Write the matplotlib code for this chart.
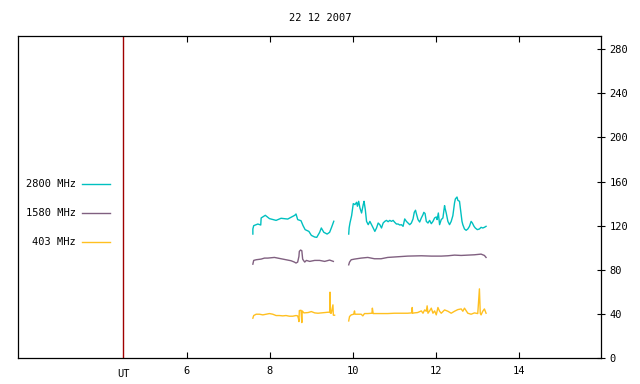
import numpy as np
import matplotlib
matplotlib.use("Agg")
import matplotlib.pyplot as plt
from matplotlib.lines import Line2D

nan = np.nan

# UT hours and flux values (nan = data gap)
t_2800 = [7.59, 7.59, 7.61, 7.71, 7.78, 7.79, 7.89, 7.99, 8.15, 8.27, 8.43, 8.60, 8.63, 8.67,
          8.75, 8.80, 8.85, 8.94, 9.00, 9.08, 9.13, 9.20, 9.24, 9.30, 9.38, 9.44, 9.49, 9.54,
          9.70,
          9.90, 9.91, 9.93, 9.97, 10.01, 10.05, 10.09, 10.11, 10.14, 10.17, 10.21, 10.25, 10.27,
          10.30, 10.33, 10.37, 10.41, 10.45, 10.49, 10.53, 10.57, 10.61, 10.65, 10.69, 10.73,
          10.77, 10.81, 10.85, 10.89, 10.93, 10.97, 11.01, 11.05, 11.09, 11.13, 11.17, 11.21,
          11.25, 11.29, 11.33, 11.37, 11.41, 11.45, 11.48, 11.51, 11.53, 11.57, 11.61, 11.65,
          11.69, 11.71, 11.74, 11.77, 11.81, 11.85, 11.89, 11.93, 11.97, 12.01, 12.03, 12.06,
          12.09, 12.13, 12.17, 12.21, 12.22, 12.25, 12.29, 12.33, 12.37, 12.41, 12.45, 12.47,
          12.51, 12.53, 12.57, 12.60, 12.63, 12.65, 12.69, 12.73, 12.77, 12.81, 12.85, 12.88,
          12.92, 12.95, 13.00, 13.05, 13.09, 13.13, 13.17, 13.21]
f_2800 = [112.4, 117.0, 120.0, 121.5, 120.6, 127.0, 129.4, 126.4, 124.8, 126.7, 126.0, 129.4,
          130.6, 125.5, 124.5, 120.0, 116.4, 114.8, 111.2, 109.7, 109.4, 114.0, 117.9, 114.0,
          112.4, 114.0, 118.8, 124.0,
          nan,
          112.4, 117.9, 122.4, 129.1, 140.0, 139.1, 141.2, 137.6, 142.1, 136.1, 131.5, 139.1,
          142.1, 134.5, 123.9, 120.9, 123.9, 120.9, 117.9, 114.8, 117.9, 122.4, 120.9, 117.9,
          122.4, 123.9, 124.8, 123.6, 124.8, 123.9, 124.8, 123.0, 121.5, 121.5, 120.6, 120.9,
          119.4, 126.1, 123.9, 122.4, 120.9, 122.4, 126.1, 132.1, 134.0, 131.0, 125.5, 123.3,
          127.0, 130.0, 132.1, 131.0, 123.9, 122.4, 124.8, 121.8, 123.9, 127.0, 127.9, 125.5,
          131.5, 120.9, 125.5, 127.0, 138.2, 136.1, 131.5, 123.9, 120.9, 123.9, 129.1, 140.6,
          144.2, 146.0, 143.0, 142.1, 133.0, 123.9, 120.9, 117.0, 115.8, 117.0, 119.4, 123.9,
          122.4, 119.4, 117.9, 116.4, 117.0, 118.5, 117.9, 118.5, 119.4]

t_1580 = [7.59, 7.61, 7.67, 7.79, 7.87, 7.95, 8.11, 8.19, 8.27, 8.35, 8.43, 8.51, 8.59, 8.63,
          8.67, 8.70, 8.71, 8.74, 8.77, 8.79, 8.81, 8.84, 8.88, 8.96, 9.08, 9.20, 9.32, 9.44,
          9.53,
          9.70,
          9.90, 9.92, 9.96, 10.04, 10.20, 10.36, 10.52, 10.68, 10.84, 11.08, 11.32, 11.65,
          11.89, 12.13, 12.29, 12.45, 12.61, 12.77, 12.93, 13.09, 13.17, 13.21]
f_1580 = [85.1, 88.5, 89.1, 89.7, 90.6, 90.6, 91.2, 90.6, 90.0, 89.4, 88.8, 88.2, 87.0, 86.1,
          87.0, 92.1, 96.7, 97.9, 97.3, 89.7, 88.5, 87.0, 88.5, 87.6, 88.5, 88.5, 87.6, 88.8,
          87.6,
          nan,
          84.5, 87.0, 89.1, 89.7, 90.6, 91.2, 90.0, 90.0, 91.2, 91.8, 92.4, 92.7, 92.4, 92.4,
          92.7, 93.3, 93.0, 93.3, 93.6, 94.2, 93.0, 91.2]

t_403 = [7.59, 7.61, 7.67, 7.75, 7.83, 7.91, 7.99, 8.07, 8.15, 8.23, 8.31, 8.39, 8.47, 8.55,
         8.63, 8.67, 8.69, 8.70, 8.71, 8.75, 8.77, 8.78, 8.82, 8.92, 9.00, 9.08, 9.16, 9.24,
         9.32, 9.40, 9.44, 9.45, 9.46, 9.48, 9.52, 9.53, 9.56,
         9.70,
         9.90, 9.92, 9.96, 10.02, 10.04, 10.05, 10.20, 10.24, 10.28, 10.36, 10.46, 10.47, 10.49,
         10.68, 10.84, 11.00, 11.16, 11.32, 11.42, 11.43, 11.44, 11.48, 11.56, 11.65, 11.69,
         11.73, 11.77, 11.79, 11.81, 11.85, 11.89, 11.93, 11.97, 12.01, 12.05, 12.09, 12.13,
         12.21, 12.29, 12.37, 12.45, 12.53, 12.61, 12.65, 12.69, 12.77, 12.85, 12.93, 13.01,
         13.05, 13.07, 13.09, 13.13, 13.17, 13.21]
f_403 = [36.1, 38.5, 39.7, 39.7, 39.1, 39.7, 40.3, 39.7, 38.5, 38.5, 38.2, 38.5, 37.9, 37.9,
         38.5, 38.2, 35.5, 33.0, 43.0, 43.3, 32.1, 42.7, 40.9, 41.2, 42.1, 40.9, 40.6, 40.9,
         41.2, 41.5, 41.5, 59.7, 40.6, 40.6, 48.2, 38.8, 38.8,
         nan,
         33.6, 37.6, 39.1, 39.7, 42.7, 39.7, 39.7, 38.2, 40.3, 40.3, 40.6, 45.2, 40.3,
         40.3, 40.3, 40.6, 40.6, 40.6, 40.9, 45.8, 40.6, 40.9, 41.2, 42.7, 40.6,
         43.6, 42.4, 47.3, 40.6, 42.7, 45.2, 40.6, 42.7, 39.1, 45.8, 42.4, 40.6,
         43.6, 42.4, 40.6, 42.4, 43.9, 44.5, 42.4, 45.2, 40.6, 39.7, 40.9, 40.3,
         62.7, 40.6, 39.1, 42.4, 44.5, 40.6]

labels = ["2800 MHz", "1580 MHz", "403 MHz"]
colors = ["#00c0c0", "#806080", "#ffc020"]

fig = plt.figure(figsize=(6.4, 3.84), dpi=100)
ax = fig.add_axes([18 / 640, 26 / 384, 583 / 640, 322 / 384])

ax.plot(t_2800, f_2800, color=colors[0], lw=1.0)
ax.plot(t_1580, f_1580, color=colors[1], lw=1.0)
ax.plot(t_403, f_403, color=colors[2], lw=1.0)

ax.axvline(4.47, color="#a00000", lw=1.0)

ax.set_xlim(1.93, 15.98)
ax.set_ylim(0, 292)

font = dict(family="DejaVu Sans Mono", size=7.5)

ax.set_xticks([6, 8, 10, 12, 14])
ax.set_xticklabels(["6", "8", "10", "12", "14"], fontdict=font)
ax.tick_params(axis="x", direction="in", length=4, width=0.8, top=True, pad=6)
ax.text(4.47, -0.035, "UT", transform=ax.get_xaxis_transform(), ha="center", va="top", **font)

ax.yaxis.tick_right()
ax.set_yticks(range(0, 281, 40))
ax.set_yticklabels([str(v) for v in range(0, 281, 40)], fontdict=font)
ax.tick_params(axis="y", direction="inout", length=6, width=0.8, left=False, right=True, pad=3)

for s in ax.spines.values():
    s.set_linewidth(0.9)

fig.text(0.5, 1 - 18 / 384, "22 12 2007", ha="center", va="center", **font)

# legend on the left
for i, (lab, c) in enumerate(zip(labels, colors)):
    y = 1 - (184 + 29 * i) / 384
    fig.text(76 / 640, y, lab, ha="right", va="center", **font)
    fig.add_artist(Line2D([82 / 640, 110 / 640], [y, y], color=c, lw=1.0,
                          transform=fig.transFigure))

fig.savefig("out.png", dpi=100)
